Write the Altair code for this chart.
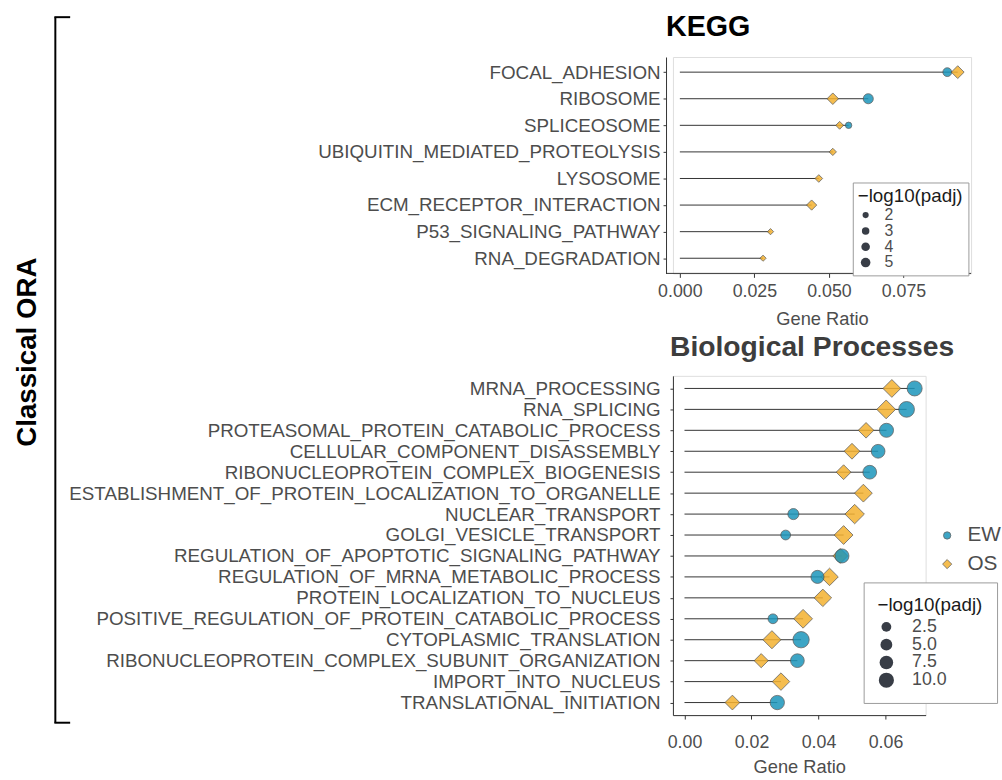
import altair as alt
import pandas as pd

FONT = "Liberation Sans"
TEXT_GREY = "#4D4D4D"
LINE_GREY = "#333333"
EW_FILL = "#1C96BB"
OS_FILL = "#F4B231"
# diamond drawn slightly wider than the unit circle, like a filled "pch 23" symbol
DIAMOND = "M0,-1.25L1.25,0L0,1.25L-1.25,0Z"
MINUS_LOG = "\u2212log10(padj)"

# ---- KEGG pathways (top to bottom) ----
kegg_terms = [
    "FOCAL_ADHESION",
    "RIBOSOME",
    "SPLICEOSOME",
    "UBIQUITIN_MEDIATED_PROTEOLYSIS",
    "LYSOSOME",
    "ECM_RECEPTOR_INTERACTION",
    "P53_SIGNALING_PATHWAY",
    "RNA_DEGRADATION",
]
kegg_ew_ratio = [0.0897, 0.0632, 0.0566, None, None, None, None, None]
kegg_ew_logp = [4.2, 5.5, 2.2, None, None, None, None, None]
kegg_os_ratio = [0.0932, 0.0513, 0.0536, 0.0513, 0.0466, 0.0442, 0.0304, 0.0279]
kegg_os_logp = [5.7, 4.6, 2.1, 1.8, 2.0, 3.6, 1.3, 1.3]

# ---- GO biological processes (top to bottom) ----
bp_terms = [
    "MRNA_PROCESSING",
    "RNA_SPLICING",
    "PROTEASOMAL_PROTEIN_CATABOLIC_PROCESS",
    "CELLULAR_COMPONENT_DISASSEMBLY",
    "RIBONUCLEOPROTEIN_COMPLEX_BIOGENESIS",
    "ESTABLISHMENT_OF_PROTEIN_LOCALIZATION_TO_ORGANELLE",
    "NUCLEAR_TRANSPORT",
    "GOLGI_VESICLE_TRANSPORT",
    "REGULATION_OF_APOPTOTIC_SIGNALING_PATHWAY",
    "REGULATION_OF_MRNA_METABOLIC_PROCESS",
    "PROTEIN_LOCALIZATION_TO_NUCLEUS",
    "POSITIVE_REGULATION_OF_PROTEIN_CATABOLIC_PROCESS",
    "CYTOPLASMIC_TRANSLATION",
    "RIBONUCLEOPROTEIN_COMPLEX_SUBUNIT_ORGANIZATION",
    "IMPORT_INTO_NUCLEUS",
    "TRANSLATIONAL_INITIATION",
]
bp_ew_ratio = [0.0687, 0.0663, 0.0603, 0.0578, 0.0553, None, 0.0325, 0.0302,
               0.0470, 0.0397, None, 0.0264, 0.0348, 0.0337, None, 0.0277]
bp_ew_logp = [9.8, 11.0, 8.2, 7.7, 7.7, None, 4.0, 2.5,
              8.2, 6.7, None, 2.5, 12.0, 7.7, None, 8.6]
bp_os_ratio = [0.0619, 0.0602, 0.0542, 0.0500, 0.0475, 0.0534, 0.0508, 0.0475,
               0.0465, 0.0433, 0.0413, 0.0354, 0.0261, 0.0229, 0.0288, 0.0143]
bp_os_logp = [8.5, 9.8, 5.8, 6.1, 5.0, 8.5, 10.7, 9.8,
              5.0, 8.1, 8.1, 9.8, 8.9, 4.3, 8.1, 5.0]

groups = ["EW", "OS"]
one = alt.Data(values=[{}])


def long_table(terms, ew_r, ew_p, os_r, os_p, order):
    series = {"EW": (ew_r, ew_p), "OS": (os_r, os_p)}
    rows = []
    for g in order:
        ratios, logps = series[g]
        for t, r, p in zip(terms, ratios, logps):
            if r is not None:
                rows.append({"term": t, "group": g, "ratio": r, "logp": p})
    return pd.DataFrame(rows)


def segment_table(terms, ew_r, os_r):
    ends = [max(v for v in (a, b) if v is not None) for a, b in zip(ew_r, os_r)]
    return pd.DataFrame({"term": terms, "start": 0.0, "end": ends})


def panel_layers(terms, points, segs, *, x_domain, x_ticks, x_fmt, y_pad, y_offset,
                 y_label_pad, x_label_pad, x_title_pad, x_domain_line,
                 size_domain, size_range, size_legend, group_legend):
    y_enc = alt.Y(
        "term:N",
        scale=alt.Scale(type="point", domain=terms, padding=y_pad),
        axis=alt.Axis(
            title=None, labelFont=FONT, labelFontSize=19, labelColor=TEXT_GREY,
            labelLimit=900, tickSize=3, tickColor=LINE_GREY, domainColor=LINE_GREY,
            labelPadding=y_label_pad, offset=y_offset, grid=False,
        ),
    )
    x_scale = alt.Scale(domain=x_domain, nice=False, zero=False)
    x_axis = alt.Axis(
        title="Gene Ratio", values=x_ticks, format=x_fmt, grid=False,
        labelFont=FONT, labelFontSize=18, labelColor=TEXT_GREY,
        titleFont=FONT, titleFontSize=18.5, titleFontWeight="normal",
        titleColor=TEXT_GREY, tickSize=4, tickColor=LINE_GREY,
        domain=x_domain_line, domainColor=LINE_GREY,
        labelPadding=x_label_pad, titlePadding=x_title_pad,
    )

    stems = alt.Chart(segs).mark_rule(color=LINE_GREY, strokeWidth=1).encode(
        x=alt.X("start:Q", scale=x_scale, axis=x_axis),
        x2="end:Q",
        y=y_enc,
    )
    dots = alt.Chart(points).mark_point(
        filled=True, opacity=0.85, stroke="#4A4A4A", strokeWidth=0.8
    ).encode(
        x=alt.X("ratio:Q", scale=x_scale, axis=x_axis),
        y=y_enc,
        color=alt.Color("group:N", scale=alt.Scale(domain=groups, range=[EW_FILL, OS_FILL]),
                        legend=group_legend),
        shape=alt.Shape("group:N", scale=alt.Scale(domain=groups, range=["circle", DIAMOND]),
                        legend=group_legend),
        size=alt.Size("logp:Q", scale=alt.Scale(domain=size_domain, range=size_range, zero=False),
                      legend=size_legend),
    )
    return [stems, dots]


def heading(text, dx, dy, color, size):
    return alt.Chart(one).mark_text(
        text=text, font=FONT, fontSize=size, fontWeight="bold", color=color,
        align="left", baseline="alphabetic",
    ).encode(x=alt.value(dx), y=alt.value(dy))


# ---- KEGG panel ----
kegg_points = long_table(kegg_terms, kegg_ew_ratio, kegg_ew_logp,
                         kegg_os_ratio, kegg_os_logp, ["EW", "OS"])
kegg_segs = segment_table(kegg_terms, kegg_ew_ratio, kegg_os_ratio)

KW, KH = 301.7, 219

kegg_size_legend = alt.Legend(
    title=MINUS_LOG, orient="none", legendX=182, legendY=127,
    values=[2, 3, 4, 5], padding=5, strokeColor="#9A9A9A", fillColor="white",
    titleFont=FONT, titleFontSize=19, titleFontWeight="normal", titleColor="#1A1A1A",
    titlePadding=1, labelFont=FONT, labelFontSize=16, labelColor=TEXT_GREY,
    labelOffset=11, symbolFillColor="#151B26", symbolStrokeWidth=0,
    symbolType="circle", rowPadding=0,
)

kegg_layers = panel_layers(
    kegg_terms, kegg_points, kegg_segs,
    x_domain=[-0.00232, 0.09768], x_ticks=[0, 0.025, 0.05, 0.075], x_fmt=".3f",
    y_pad=0.57, y_offset=7, y_label_pad=3, x_label_pad=5, x_title_pad=10,
    x_domain_line=False, size_domain=[0, 6], size_range=[1, 113.4],
    size_legend=kegg_size_legend, group_legend=None,
)

# bottom axis line running under the offset y axis
kegg_baseline = alt.Chart(one).mark_rule(color=LINE_GREY, strokeWidth=1).encode(
    x=alt.value(-7), x2=alt.value(KW), y=alt.value(KH)
)
# bracket and side label grouping both panels
bracket_v = alt.Chart(one).mark_rule(color="black", strokeWidth=2).encode(
    x=alt.value(-625), y=alt.value(-40.3), y2=alt.value(673.7)
)
bracket_top = alt.Chart(one).mark_rule(color="black", strokeWidth=2).encode(
    x=alt.value(-626), x2=alt.value(-610), y=alt.value(-40.3)
)
bracket_bottom = alt.Chart(one).mark_rule(color="black", strokeWidth=2).encode(
    x=alt.value(-626), x2=alt.value(-610), y=alt.value(673.7)
)
side_label = alt.Chart(one).mark_text(
    text="Classical ORA", angle=270, font=FONT, fontSize=28, fontWeight="bold",
    color="black", align="center", baseline="middle",
).encode(x=alt.value(-653), y=alt.value(298.7))

kegg = alt.layer(
    *kegg_layers, kegg_baseline, bracket_v, bracket_top, bracket_bottom, side_label,
    heading("KEGG", -7, -21, "black", 29),
).properties(width=KW, height=KH)

# ---- Biological processes panel ----
bp_points = long_table(bp_terms, bp_ew_ratio, bp_ew_logp,
                       bp_os_ratio, bp_os_logp, ["OS", "EW"])
bp_segs = segment_table(bp_terms, bp_ew_ratio, bp_os_ratio)

BW, BH = 255.7, 343.3

bp_size_legend = alt.Legend(
    title=MINUS_LOG, orient="none", legendX=193, legendY=209,
    values=[2.5, 5.0, 7.5, 10.0], format=".1f", padding=14,
    strokeColor="#9A9A9A", fillColor="white",
    titleFont=FONT, titleFontSize=19, titleFontWeight="normal", titleColor="#1A1A1A",
    titlePadding=3, labelFont=FONT, labelFontSize=18, labelColor=TEXT_GREY,
    labelOffset=17, symbolFillColor="#151B26", symbolStrokeWidth=0,
    symbolType="circle", rowPadding=0,
)
bp_group_legend = alt.Legend(
    title=None, orient="none", legendX=267, legendY=151, padding=0,
    labelFont=FONT, labelFontSize=21, labelColor=TEXT_GREY, labelOffset=10,
    symbolSize=55, symbolStrokeColor="#4A4A4A", symbolStrokeWidth=0.8, rowPadding=7,
)

bp_layers = panel_layers(
    bp_terms, bp_points, bp_segs,
    x_domain=[-0.00345, 0.07198], x_ticks=[0, 0.02, 0.04, 0.06], x_fmt=".2f",
    y_pad=0.6, y_offset=0, y_label_pad=10, x_label_pad=15, x_title_pad=6,
    x_domain_line=True, size_domain=[0, 12], size_range=[52.2, 272],
    size_legend=bp_size_legend, group_legend=bp_group_legend,
)

bp = alt.layer(
    *bp_layers, heading("Biological Processes", -3, -20, "#3D3D3D", 28.6)
).properties(width=BW, height=BH)

chart = alt.vconcat(kegg, bp, spacing=103.7, bounds="flush").resolve_scale(
    color="independent", shape="independent", size="independent",
).resolve_legend(
    color="independent", shape="independent", size="independent",
).properties(
    padding={"left": 13, "top": 8, "right": 0, "bottom": 0},
).configure_view(stroke=None).configure(font=FONT)

chart.save("out.html", embed_options={"renderer": "svg", "actions": False})
